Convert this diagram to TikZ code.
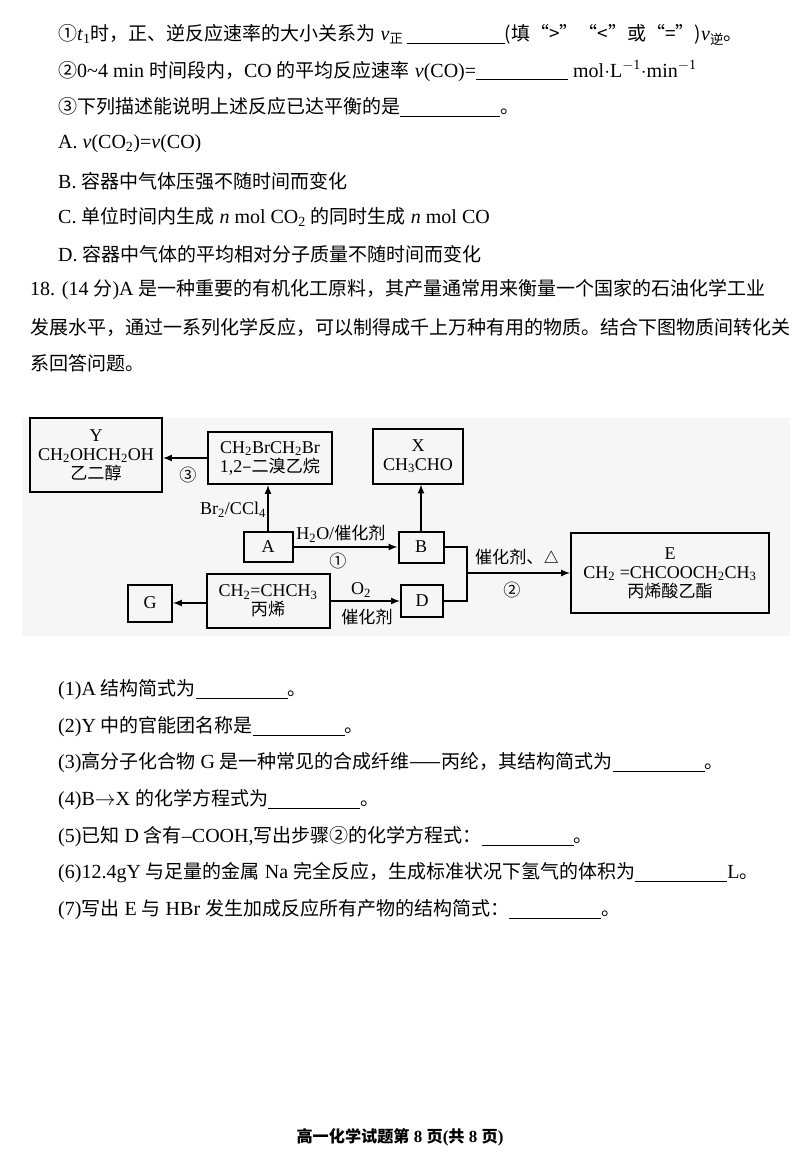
\documentclass[tikz,border=0pt]{standalone}
\usepackage{fontspec}
\setmainfont{Liberation Serif}
\newfontfamily\cjk{Noto Sans CJK SC}[Scale=0.95]
\newcommand{\zh}[1]{{\cjk #1}}
\newcommand{\blank}[1]{\rule[-3pt]{#1pt}{0.8pt}}
\newcommand{\sbs}[1]{\textsubscript{#1}}
\begin{document}
\begin{tikzpicture}[x=1pt,y=-1pt,
  txt/.style={anchor=west,inner sep=0pt,font=\fontsize{20}{22}\selectfont},
  bx/.style={draw,line width=2pt,align=center,inner sep=1pt,font=\fontsize{18}{19}\selectfont},
  lbl/.style={inner sep=1pt,font=\fontsize{18}{19}\selectfont},
  arr/.style={-latex,line width=2pt},
  ln/.style={line width=2pt}]
\useasboundingbox (0,0) rectangle (800,1175);
\fill[white] (0,0) rectangle (800,1175);
% text lines
\node[txt] (l1) at (58,35) {\zh{①}\textit{t}\sbs{1}\zh{时，正、逆反应速率的大小关系为} \textit{v}\sbs{\zh{正}}\,\blank{98}\zh{(填“>”“<”或“=”)}\textit{v}\sbs{\zh{逆}}\zh{。}};
\node[txt] (l2) at (58,71) {\zh{②}0\textasciitilde4 min \zh{时间段内，}CO \zh{的平均反应速率} \textit{v}(CO)=\blank{92} mol$\cdot$L\textsuperscript{$-$1}$\cdot$min\textsuperscript{$-$1}};
\node[txt] (l3) at (58,107) {\zh{③下列描述能说明上述反应已达平衡的是}\blank{100}\zh{。}};
\node[txt] (l4) at (58,144) {A. \textit{v}(CO\sbs{2})=\textit{v}(CO)};
\node[txt] (l5) at (58,181) {B. \zh{容器中气体压强不随时间而变化}};
\node[txt] (l6) at (58,217) {C. \zh{单位时间内生成} \textit{n} mol CO\sbs{2} \zh{的同时生成} \textit{n} mol CO};
\node[txt] (l7) at (58,254) {D. \zh{容器中气体的平均相对分子质量不随时间而变化}};
\node[txt] (l8) at (30,290) {18. (14 \zh{分})A \zh{是一种重要的有机化工原料，其产量通常用来衡量一个国家的石油化学工业}};
\node[txt] (l9) at (30,327) {\zh{发展水平，通过一系列化学反应，可以制得成千上万种有用的物质。结合下图物质间转化关}};
\node[txt] (l10) at (30,363) {\zh{系回答问题。}};
% diagram background
\fill[gray!7] (22,418) rectangle (790,636);
\node[bx,minimum width=132pt,minimum height=74pt] (Y) at (96,455) {Y\\CH\sbs{2}OHCH\sbs{2}OH\\\zh{乙二醇}};
\node[bx,minimum width=124pt,minimum height=52pt] (Br) at (270,458) {CH\sbs{2}BrCH\sbs{2}Br\\1,2\zh{–二溴乙烷}};
\node[bx,minimum width=90pt,minimum height=55pt] (X) at (418,456) {X\\CH\sbs{3}CHO};
\node[bx,minimum width=49pt,minimum height=30pt] (A) at (268,547) {A};
\node[bx,minimum width=45pt,minimum height=31pt] (B) at (421,547) {B};
\node[bx,minimum width=123pt,minimum height=54pt] (P) at (268,601) {CH\sbs{2}=CHCH\sbs{3}\\\zh{丙烯}};
\node[bx,minimum width=44pt,minimum height=37pt] (G) at (150,603) {G};
\node[bx,minimum width=42pt,minimum height=32pt] (D) at (422,601) {D};
\node[bx,minimum width=198pt,minimum height=80pt] (E) at (670,573) {E\\CH\sbs{2} =CHCOOCH\sbs{2}CH\sbs{3}\\\zh{丙烯酸乙酯}};
\draw[arr] (Br.west) -- (Y.east |- Br.west);
\node[lbl] (n3) at (188,475) {\zh{③}};
\draw[arr] (A.north) -- (A.north |- Br.south);
\node[lbl] (bc) at (233,510) {Br\sbs{2}/CCl\sbs{4}};
\draw[arr] (A.east) -- (B.west);
\node[lbl] (hc) at (341,534) {H\sbs{2}O/\zh{催化剂}};
\node[lbl] (n1) at (338,561) {\zh{①}};
\draw[arr] (B.north) -- (B.north |- X.south);
\draw[arr] (P.west |- G.east) -- (G.east);
\draw[arr] (P.east |- D.west) -- (D.west);
\node[lbl] (o2) at (361,590) {O\sbs{2}};
\node[lbl] (cat) at (367,617) {\zh{催化剂}};
\coordinate (j1) at (467,547);
\coordinate (j2) at (467,601);
\coordinate (jm) at (467,573);
\draw[ln] (B.east) -- (j1) -- (j2) -- (D.east);
\draw[arr] (jm) -- (E.west);
\node[lbl] (c2) at (517,558) {\zh{催化剂、}$\triangle$};
\node[lbl] (n2) at (512,590) {\zh{②}};
% questions
\node[txt] (q1) at (58,690) {(1)A \zh{结构简式为}\blank{92}\zh{。}};
\node[txt] (q2) at (58,727) {(2)Y \zh{中的官能团名称是}\blank{92}\zh{。}};
\node[txt] (q3) at (58,763) {(3)\zh{高分子化合物} G \zh{是一种常见的合成纤维——丙纶，其结构简式为}\blank{92}\zh{。}};
\node[txt] (q4) at (58,800) {(4)B$\rightarrow$X \zh{的化学方程式为}\blank{92}\zh{。}};
\node[txt] (q5) at (58,837) {(5)\zh{已知} D \zh{含有}–COOH,\zh{写出步骤②的化学方程式：}\blank{92}\zh{。}};
\node[txt] (q6) at (58,873) {(6)12.4gY \zh{与足量的金属} Na \zh{完全反应，生成标准状况下氢气的体积为}\blank{92}L\zh{。}};
\node[txt] (q7) at (58,910) {(7)\zh{写出} E \zh{与} HBr \zh{发生加成反应所有产物的结构简式：}\blank{92}\zh{。}};
\node[inner sep=0pt,font=\fontsize{17}{19}\selectfont\bfseries] (ft) at (400,1137) {\zh{\bfseries 高一化学试题第} 8 \zh{\bfseries 页}(\zh{\bfseries 共} 8 \zh{\bfseries 页})};
\end{tikzpicture}
\end{document}
